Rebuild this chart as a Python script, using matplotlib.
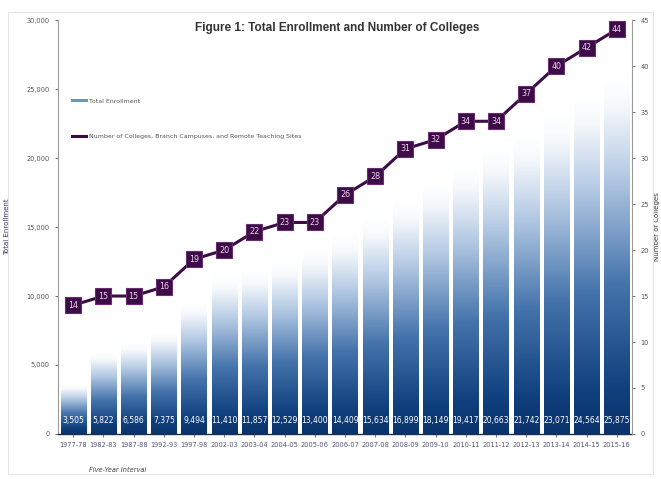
import numpy as np
import matplotlib
matplotlib.use("Agg")
import matplotlib.pyplot as plt
from matplotlib.colors import LinearSegmentedColormap
from matplotlib.lines import Line2D
from matplotlib.patches import Rectangle

# Academic years (five-year intervals, then annual)
years = ["1977-78", "1982-83", "1987-88", "1992-93", "1997-98", "2002-03",
         "2003-04", "2004-05", "2005-06", "2006-07", "2007-08", "2008-09",
         "2009-10", "2010-11", "2011-12", "2012-13", "2013-14", "2014-15",
         "2015-16"]
enrollment = [3505, 5822, 6586, 7375, 9494, 11410, 11857, 12529, 13400,
              14409, 15634, 16899, 18149, 19417, 20663, 21742, 23071,
              24564, 25875]
colleges = [14, 15, 15, 16, 19, 20, 22, 23, 23, 26, 28, 31, 32, 34, 34,
            37, 40, 42, 44]

enroll_ticks = [0, 5000, 10000, 15000, 20000, 25000, 30000]
college_ticks = list(range(0, 50, 5))

purple = "#3b0c45"

fig = plt.figure(figsize=(6.61, 4.79), dpi=100)
fig.patches.append(Rectangle((0.012, 0.01), 0.976, 0.965, transform=fig.transFigure,
                             fill=False, edgecolor="#e4e4e4", lw=0.8))
ax = fig.add_axes([0.088, 0.094, 0.868, 0.864])

# White-to-navy fade used to fill each enrollment bar
cmap = LinearSegmentedColormap.from_list(
    "bar_fade", [(0.0, "#0a336b"), (0.12, "#0f3f7d"), (0.42, "#4574ac"),
                 (0.72, "#b3c9e3"), (0.92, "#f6f9fc"), (1.0, "#ffffff")])
grad = np.linspace(0, 1, 256).reshape(-1, 1)

x = np.arange(len(years))
width = 0.84
for xi, h in zip(x, enrollment):
    ax.imshow(grad, cmap=cmap, origin="lower", aspect="auto",
              extent=[xi - width / 2, xi + width / 2, 0, h], zorder=1)
    ax.text(xi, 1000, f"{h:,}", ha="center", va="center", color="white",
            fontsize=5.5, zorder=3)

ax.set_xlim(-0.5, len(years) - 0.5)
ax.set_ylim(0, 30000)
ax.set_yticks(enroll_ticks)
ax.set_yticklabels([f"{t:,}" for t in enroll_ticks])
ax.set_xticks(x)
ax.set_xticklabels(years)
ax.tick_params(axis="both", labelsize=4.8, colors="#555555", length=2.5, width=0.6)
ax.tick_params(axis="x", colors="#555577", pad=3)
ax.spines["top"].set_visible(False)
ax.spines["left"].set_color("#9a9a9a")
ax.spines["right"].set_visible(False)
ax.spines["bottom"].set_color("#1b2f55")
ax.spines["bottom"].set_linewidth(1.0)
ax.set_ylabel("Total Enrollment", fontsize=5, color="#333366", labelpad=12)

ax2 = ax.twinx()
ax2.set_ylim(0, 45)
ax2.set_yticks(college_ticks)
ax2.tick_params(axis="y", labelsize=4.8, colors="#555555", length=2.5, width=0.6)
for s in ["top", "left", "bottom"]:
    ax2.spines[s].set_visible(False)
ax2.spines["right"].set_color("#9a9a9a")
ax2.set_ylabel("Number of Colleges", fontsize=5, color="#333333", labelpad=4)

ax2.plot(x, colleges, color=purple, lw=2.2, marker="s", markersize=11.5,
         markerfacecolor=purple, markeredgecolor="#6a2c70", markeredgewidth=0.8,
         zorder=4)
for xi, c in zip(x, colleges):
    ax2.text(xi, c, str(c), ha="center", va="center", color="#f3cdf0",
             fontsize=5.8, zorder=5)

handles = [Line2D([], [], color="#6e93c4", lw=2.2),
           Line2D([], [], color=purple, lw=2.2)]
ax.legend(handles, ["Total Enrollment",
                    "Number of Colleges, Branch Campuses, and Remote Teaching Sites"],
          loc="upper left", bbox_to_anchor=(0.015, 0.825), frameon=False,
          fontsize=4.5, labelspacing=4.8, handlelength=2.2, handletextpad=0.5,
          labelcolor="#555555")

fig.text(0.51, 0.941, "Figure 1: Total Enrollment and Number of Colleges",
         ha="center", va="center", fontsize=8.5, fontweight="bold",
         family=["Liberation Sans Narrow", "Liberation Sans", "DejaVu Sans"],
         color="#333333")
fig.text(0.135, 0.018, "Five-Year Interval", ha="left", va="center",
         fontsize=4.8, style="italic", color="#444444")

fig.savefig("out.png", dpi=100)
